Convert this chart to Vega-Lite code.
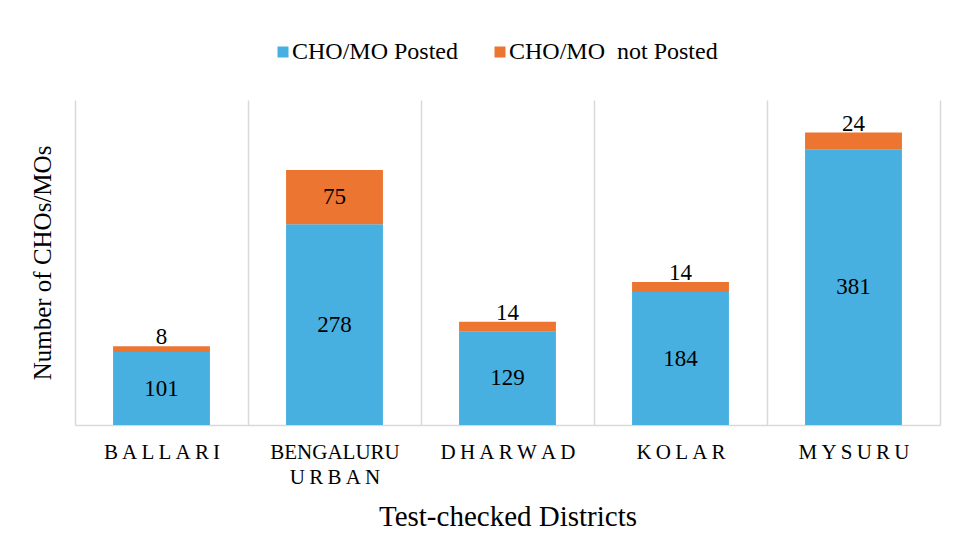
{
  "$schema": "https://vega.github.io/schema/vega-lite/v6.json",
  "width": 865,
  "height": 325,
  "autosize": {"type": "none"},
  "padding": {"left": 75, "top": 100, "right": 15, "bottom": 129},
  "background": "white",
  "config": {
    "font": "Liberation Serif",
    "view": {"stroke": null},
    "text": {"font": "Liberation Serif", "fontSize": 23, "color": "black"}
  },
  "data": {
    "values": [
      {"district": "BALLARI", "posted": 101, "notPosted": 8},
      {"district": "BENGALURU URBAN", "posted": 278, "notPosted": 75},
      {"district": "DHARWAD", "posted": 129, "notPosted": 14},
      {"district": "KOLAR", "posted": 184, "notPosted": 14},
      {"district": "MYSURU", "posted": 381, "notPosted": 24}
    ]
  },
  "encoding": {
    "x": {
      "field": "district",
      "type": "nominal",
      "sort": null,
      "scale": {"paddingInner": 0, "paddingOuter": 0},
      "axis": {
        "title": "Test-checked Districts",
        "titleFont": "Liberation Serif",
        "titleFontSize": 29,
        "titleFontWeight": "normal",
        "titleColor": "black",
        "titleBaseline": "alphabetic",
        "titleY": 100,
        "labelAngle": 0,
        "labelFont": "Liberation Serif",
        "labelFontSize": 21,
        "labelColor": "black",
        "labelBaseline": "alphabetic",
        "labelPadding": 33,
        "labelLineHeight": 25,
        "labelExpr": "!isString(datum.value) ? '' : datum.value == 'BENGALURU URBAN' ? ['BENGALURU', join(split('URBAN', ''), '\u2009')] : join(split(datum.value, ''), '\u2009')",
        "ticks": false,
        "tickBand": "extent",
        "grid": true,
        "gridColor": "#d9d9d9",
        "gridWidth": 1.5,
        "domainColor": "#d9d9d9",
        "domainWidth": 1.5
      }
    }
  },
  "layer": [
    {
      "mark": {"type": "bar", "width": {"band": 0.56}},
      "transform": [
        {"fold": ["posted", "notPosted"], "as": ["key", "count"]},
        {"calculate": "datum.key == 'posted' ? 'CHO/MO Posted' : 'CHO/MO\u00a0 not Posted'", "as": "status"}
      ],
      "encoding": {
        "y": {
          "field": "count",
          "type": "quantitative",
          "stack": "zero",
          "scale": {"domain": [0, 450], "nice": false},
          "axis": {
            "title": "Number of CHOs/MOs",
            "titleFont": "Liberation Serif",
            "titleFontSize": 25,
            "titleFontWeight": "normal",
            "titleColor": "black",
            "titleAngle": -90,
            "titleAlign": "center",
            "titleBaseline": "middle",
            "titleX": -33,
            "titleY": 162.5,
            "labels": false,
            "ticks": false,
            "domain": false,
            "grid": false
          }
        },
        "color": {
          "field": "status",
          "type": "nominal",
          "scale": {
            "domain": ["CHO/MO Posted", "CHO/MO\u00a0 not Posted"],
            "range": ["#47B0E0", "#EC7531"]
          },
          "legend": {
            "title": null,
            "orient": "none",
            "direction": "horizontal",
            "legendX": 196,
            "legendY": -60,
            "symbolType": "square",
            "symbolSize": 121,
            "symbolStrokeWidth": 0,
            "labelFont": "Liberation Serif",
            "labelFontSize": 24,
            "labelColor": "black",
            "labelOffset": -3,
            "columnPadding": 29,
            "labelLimit": 400
          }
        },
        "order": {"field": "key", "sort": "descending"}
      }
    },
    {
      "mark": {"type": "text", "baseline": "middle"},
      "transform": [{"calculate": "datum.posted / 2", "as": "mid"}],
      "encoding": {
        "y": {"field": "mid", "type": "quantitative"},
        "text": {"field": "posted", "type": "quantitative"}
      }
    },
    {
      "mark": {"type": "text", "baseline": "middle"},
      "transform": [
        {"filter": "datum.notPosted > 40"},
        {"calculate": "datum.posted + datum.notPosted / 2", "as": "mid"}
      ],
      "encoding": {
        "y": {"field": "mid", "type": "quantitative"},
        "text": {"field": "notPosted", "type": "quantitative"}
      }
    },
    {
      "mark": {"type": "text", "baseline": "alphabetic", "dy": -2},
      "transform": [
        {"filter": "datum.notPosted <= 40"},
        {"calculate": "datum.posted + datum.notPosted", "as": "total"}
      ],
      "encoding": {
        "y": {"field": "total", "type": "quantitative"},
        "text": {"field": "notPosted", "type": "quantitative"}
      }
    }
  ]
}
